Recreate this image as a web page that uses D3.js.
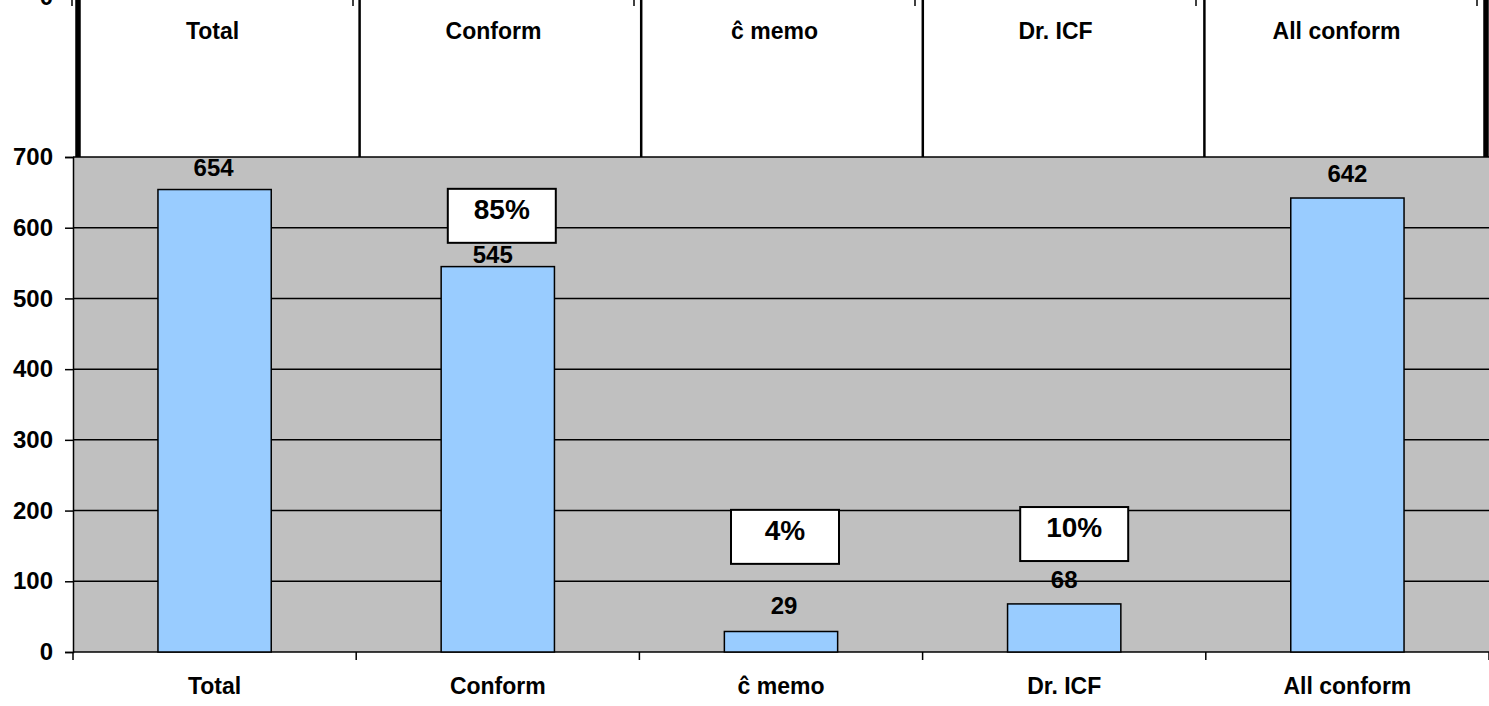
<!DOCTYPE html>
<html>
<head>
<meta charset="utf-8">
<script src="https://cdn.jsdelivr.net/npm/d3@7"></script>
<style>
  body { margin: 0; background: #fff; }
  svg { display: block; }
  text { font-family: "Liberation Sans", Arial, Helvetica, sans-serif; font-weight: bold; fill: #000; }
</style>
</head>
<body>
<svg id="chart" width="1489" height="706"></svg>
<script>
// Record counts per review category
const categories = ["Total", "Conform", "ĉ memo", "Dr. ICF", "All conform"];
const counts = [654, 545, 29, 68, 642];
const yTicks = [0, 100, 200, 300, 400, 500, 600, 700];
const shareLabels = ["", "85%", "4%", "10%", ""];

// Hand-placed label tweaks (pixels / value units)
const valueLift = [14, 4, 17, 16, 16];
const valueShift = [-1, -5, 3, 0, 0];
const shareTop = [null, 655, 201, 205, null];
const shareShift = [0, 4, 4, 10, 0];

const svg = d3.select("#chart");
const W = 1489;

const plot = { left: 73, right: 1489, top: 157, bottom: 652 };

const x = d3.scaleBand().domain(categories).range([plot.left, plot.right]).padding(0);
const y = d3.scaleLinear().domain([0, 700]).range([plot.bottom, plot.top]);

// ---- upper strip: a second category axis sitting above the plot ----
const topX = d3.scaleBand().domain(categories).range([72, 1477]).padding(0);
const topLines = d3.scaleBand().domain(categories).range([78, 1486]).padding(0);

const strip = svg.append("g");
const lineXs = categories.map(c => topLines(c)).concat([topLines.range()[1]]);
strip.selectAll("line.divider")
  .data(lineXs)
  .join("line")
  .attr("class", "divider")
  .attr("x1", d => d).attr("x2", d => d)
  .attr("y1", 0).attr("y2", plot.top)
  .attr("stroke", "#000")
  .attr("stroke-width", (d, i) => (i === 0 || i === lineXs.length - 1) ? 5.5 : 2.5);

const topTickXs = categories.map(c => topX(c)).concat([topX.range()[1]]);
strip.selectAll("line.ttick")
  .data(topTickXs)
  .join("line")
  .attr("class", "ttick")
  .attr("x1", d => d).attr("x2", d => d)
  .attr("y1", -2).attr("y2", 6)
  .attr("stroke", "#000").attr("stroke-width", 1.5);

strip.selectAll("text.tlabel")
  .data(categories)
  .join("text")
  .attr("class", "tlabel")
  .attr("x", d => topX(d) + topX.bandwidth() / 2)
  .attr("y", 39)
  .attr("text-anchor", "middle")
  .attr("font-size", 23)
  .text(d => d);

strip.append("text")
  .attr("x", 53).attr("y", 5)
  .attr("text-anchor", "end")
  .attr("font-size", 24)
  .text(yTicks[0]);

// ---- main plot ----
svg.append("rect")
  .attr("x", plot.left).attr("y", plot.top)
  .attr("width", plot.right - plot.left).attr("height", plot.bottom - plot.top)
  .attr("fill", "#c0c0c0");

// gridlines
svg.append("g")
  .selectAll("line")
  .data(yTicks.filter(v => v > 0))
  .join("line")
  .attr("x1", plot.left).attr("x2", plot.right)
  .attr("y1", d => y(d)).attr("y2", d => y(d))
  .attr("stroke", "#000").attr("stroke-width", 1.5);

// y axis
const yAxis = svg.append("g")
  .attr("transform", `translate(${plot.left},0)`)
  .call(d3.axisLeft(y).tickValues(yTicks).tickSize(8).tickPadding(12).tickFormat(d3.format("d")));
yAxis.select(".domain").attr("stroke", "#000").attr("stroke-width", 1.5);
yAxis.selectAll(".tick line").attr("stroke", "#000").attr("stroke-width", 1.5);
yAxis.selectAll(".tick text")
  .attr("font-size", 24)
  .attr("font-family", null)
  .attr("fill", "#000");

// x axis with ticks at category boundaries
const xTickXs = categories.map(c => x(c)).concat([plot.right]);
const xAxis = svg.append("g");
xAxis.append("line")
  .attr("x1", plot.left).attr("x2", plot.right)
  .attr("y1", plot.bottom).attr("y2", plot.bottom)
  .attr("stroke", "#000").attr("stroke-width", 1.5);
xAxis.selectAll("line.xtick")
  .data(xTickXs)
  .join("line")
  .attr("class", "xtick")
  .attr("x1", d => d).attr("x2", d => d)
  .attr("y1", plot.bottom).attr("y2", plot.bottom + 8)
  .attr("stroke", "#000").attr("stroke-width", 1.5);
xAxis.selectAll("text")
  .data(categories)
  .join("text")
  .attr("x", d => x(d) + x.bandwidth() / 2)
  .attr("y", 694)
  .attr("text-anchor", "middle")
  .attr("font-size", 23)
  .text(d => d);

// bars
const barW = x.bandwidth() * 0.4;
svg.append("g")
  .selectAll("rect")
  .data(categories)
  .join("rect")
  .attr("x", d => x(d) + (x.bandwidth() - barW) / 2)
  .attr("width", barW)
  .attr("y", (d, i) => y(counts[i]))
  .attr("height", (d, i) => y(0) - y(counts[i]))
  .attr("fill", "#99ccff")
  .attr("stroke", "#000")
  .attr("stroke-width", 1.5);

// value labels
svg.append("g")
  .selectAll("text")
  .data(categories)
  .join("text")
  .attr("x", (d, i) => x(d) + x.bandwidth() / 2 + valueShift[i])
  .attr("y", (d, i) => y(counts[i]) - valueLift[i])
  .attr("text-anchor", "middle")
  .attr("font-size", 24)
  .text((d, i) => counts[i]);

// share boxes
const boxW = 108, boxH = 54;
const shares = svg.append("g")
  .selectAll("g")
  .data(categories.map((c, i) => ({ c, i })).filter(o => shareLabels[o.i]))
  .join("g")
  .attr("transform", o => `translate(${x(o.c) + x.bandwidth() / 2 + shareShift[o.i] - boxW / 2},${y(shareTop[o.i])})`);
shares.append("rect")
  .attr("width", boxW).attr("height", boxH)
  .attr("fill", "#fff").attr("stroke", "#000").attr("stroke-width", 2);
shares.append("text")
  .attr("x", boxW / 2).attr("y", 30)
  .attr("text-anchor", "middle")
  .attr("font-size", 28)
  .text(o => shareLabels[o.i]);
</script>
</body>
</html>
